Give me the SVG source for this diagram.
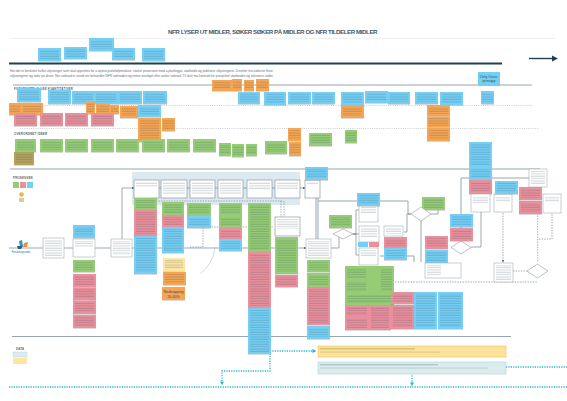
<svg xmlns="http://www.w3.org/2000/svg" width="567" height="401" viewBox="0 0 567 401">
<style>
text{font-family:"Liberation Sans",Arial,sans-serif;fill:#3a4a58}
.t{font-size:6.2px;font-weight:700;letter-spacing:.45px;fill:#4a5b68}
.h{font-size:2.9px;font-weight:700;letter-spacing:.2px;fill:#56646f}
.p{font-size:3.4px;fill:#6a7680}
.big{font-size:3.7px;text-anchor:middle}
.b{fill:#74cff5}.o{fill:#f5a552}.r{fill:#ea8f9c}.g{fill:#95cc74}.y{fill:#fbe7a1}.k{fill:#b3a15c}
.s{filter:url(#sh)}
.w{fill:#fff;stroke:#8b98a2;stroke-width:.7}
.d{fill:#fff;stroke:#a3adb5;stroke-width:.6}
.m{fill:url(#ln);opacity:.24}
.c{fill:none;stroke:#75858f;stroke-width:.7}
.cd{fill:none;stroke:#75858f;stroke-width:.7;stroke-dasharray:1.4 1.2}
.bar{fill:none;stroke:#98a6ae;stroke-width:1}
.dot{fill:none;stroke:#a6b0b6;stroke-width:.6;stroke-dasharray:1 1.2}
.tl{fill:none;stroke:#27b5cf;stroke-width:1.3;stroke-dasharray:1.2 1.2}
</style>
<defs>
<filter id="sh" x="-10%" y="-10%" width="120%" height="130%"><feDropShadow dx="0" dy=".6" stdDeviation=".4" flood-color="#666" flood-opacity=".4"/></filter>
<pattern id="ln" width="12" height="2.4" patternUnits="userSpaceOnUse"><rect y=".5" width="12" height="1" fill="#2f4a56"/></pattern>
<marker id="a" markerWidth="4" markerHeight="4" refX="3" refY="2" orient="auto"><path d="M0 0L4 2L0 4z" fill="#5f6e79"/></marker>
<marker id="at" markerWidth="3" markerHeight="3" refX="2" refY="1.5" orient="auto"><path d="M0 0L3 1.5L0 3z" fill="#27b5cf"/></marker>
</defs>
<rect width="567" height="401" fill="#fff"/>
<text class="t" x="168" y="34" textLength="210">NFR LYSER UT MIDLER, SØKER SØKER PÅ MIDLER OG NFR TILDELER MIDLER</text>
<path d="M10 38.5H555" stroke="#eef1f3" stroke-width="1"/>
<path d="M9 63.5H502" stroke="#20404f" stroke-width="2"/>
<path d="M529 58.5H553" stroke="#20404f" stroke-width="1.4"/><path d="M552 55.5L558 58.5L552 61.5z" fill="#20404f"/>
<text class="p" x="10" y="71.5" textLength="263">Når det er besluttet hvilke utlysninger som skal opprettes for å oppnå porteføljemålene, starter prosessen med å planlegge, utarbeide og publisere utlysningene. Deretter må søkerne finne</text>
<text class="p" x="10" y="76.5" textLength="263">utlysningene og søke på disse. Når søknad er sendt inn behandler NFR søknaden og enten innvilget eller avslår søknad. Til slutt må kontrakt for prosjektet utarbeides og arkiveres under</text>
<path class="bar" d="M13 85H532M10 169H540M12 336.5H511"/>
<path class="dot" d="M45 105.5H532M20 128.5H538"/>
<text class="h" x="14" y="90">FORUTSATTE SLUSE KVANTITATIVER</text>
<text class="h" x="14" y="135">OVERORDNET IDEER</text>
<text class="h" x="13" y="179">PROSESSEN</text>
<text class="h" x="16" y="350">DATA</text>
<rect x="132" y="172" width="168" height="33" fill="#dde9f1"/>
<g id="connectors">
<path class="c" d="M9 248H43M64 248H73M95 248H111M132 248H306" marker-end="url(#a)"/>
<path class="c" d="M122 248V188H134" marker-end="url(#a)"/>
<path class="c" d="M159 188H161M187 188H190M215 188H218M243 188H247M272 188H275M300 188H305" marker-end="url(#a)"/>
<path class="bar" d="M316 186V239M318 186V239M318 201H357"/>
<path class="c" d="M331 248H339V234H343" marker-end="url(#a)"/>
<path class="c" d="M353 234H356V210H359M353 234H359M353 234H356V255H359"/>
<path class="bar" d="M380 201H408V214H411"/>
<path class="c" d="M404 232H407V214H411M431 214H438V208"/>
<path class="bar" d="M421 221V262M380 256H414V262M461 240V178H529"/>
<path class="c" d="M471 247H481V212"/>
<path class="cd" d="M190 247H203V227H273M135 201H282M281 201V217M284 201V217"/>
<path class="cd" d="M503 213V262" marker-end="url(#a)"/>
<path class="cd" d="M537.7 213V262M539 239H552V213M395 282H537M513 271H527"/>
<path d="M215 247C214 258 208 268 200 274" fill="none" stroke="#aab4ba" stroke-width=".5"/>
<path class="tl" d="M270 351H315" marker-end="url(#at)"/>
<path class="tl" d="M270 351V371H222V384" marker-end="url(#at)"/>
<path class="tl" d="M506 367H567"/>
<path class="tl" d="M412 373V385" marker-end="url(#at)"/>
<path class="tl" d="M9 387H567"/>
</g>
<g id="n1"><rect class="s b" x="38" y="48" width="23" height="13"/><rect class="m" x="40" y="50" width="19" height="9"/></g>
<g id="n2"><rect class="s b" x="64" y="47" width="23" height="12"/><rect class="m" x="66" y="49" width="19" height="8"/></g>
<g id="n3"><rect class="s b" x="89" y="38" width="25" height="13"/><rect class="m" x="91" y="40" width="21" height="9"/></g>
<g id="n4"><rect class="s b" x="112" y="48" width="23" height="12"/><rect class="m" x="114" y="50" width="19" height="8"/></g>
<g id="n5"><rect class="s b" x="142" y="48" width="23" height="13"/><rect class="m" x="144" y="50" width="19" height="9"/></g>
<g id="n6"><rect class="s b" x="478" y="72" width="22" height="13"/><text class="big" x="489" y="77.5">Only Once-</text><text class="big" x="489" y="82">prinsipp</text></g>
<g id="n7"><rect class="s b" x="17" y="88" width="24" height="14"/><rect class="m" x="19" y="90" width="20" height="10"/></g>
<g id="n8"><rect class="s b" x="48" y="90" width="23" height="14"/><rect class="m" x="50" y="92" width="19" height="10"/></g>
<g id="n9"><rect class="s b" x="72" y="91" width="23" height="13"/><rect class="m" x="74" y="93" width="19" height="9"/></g>
<g id="n10"><rect class="s b" x="94" y="91" width="24" height="13"/><rect class="m" x="96" y="93" width="20" height="9"/></g>
<g id="n11"><rect class="s b" x="118" y="91" width="24" height="13"/><rect class="m" x="120" y="93" width="20" height="9"/></g>
<g id="n12"><rect class="s b" x="143" y="91" width="24" height="13"/><rect class="m" x="145" y="93" width="20" height="9"/></g>
<g id="n13"><rect class="s o" x="9" y="103" width="12" height="12"/><rect class="m" x="10" y="105" width="10" height="8"/></g>
<g id="n14"><rect class="s o" x="21" y="103" width="22" height="12"/><rect class="m" x="23" y="105" width="18" height="8"/></g>
<g id="n15"><rect class="s o" x="86" y="101" width="9" height="13"/><rect class="m" x="87" y="103" width="7" height="9"/></g>
<g id="n16"><rect class="s o" x="96" y="103" width="14" height="12"/><rect class="m" x="97" y="105" width="12" height="8"/></g>
<g id="n17"><rect class="s o" x="110" y="105" width="9" height="9"/><rect class="m" x="111" y="107" width="7" height="5"/></g>
<g id="n18"><rect class="s o" x="120" y="106" width="18" height="12"/><rect class="m" x="122" y="108" width="14" height="8"/></g>
<g id="n19"><rect class="s b" x="138" y="105" width="23" height="12"/><rect class="m" x="140" y="107" width="19" height="8"/></g>
<g id="n20"><rect class="s o" x="138" y="118" width="23" height="24"/><rect class="m" x="140" y="120" width="19" height="20"/></g>
<g id="n21"><rect class="s o" x="162" y="118" width="13" height="13"/><rect class="m" x="163" y="120" width="11" height="9"/></g>
<g id="n22"><rect class="s r" x="14" y="113" width="23" height="13"/><rect class="m" x="16" y="115" width="19" height="9"/></g>
<g id="n23"><rect class="s r" x="40" y="113" width="23" height="13"/><rect class="m" x="42" y="115" width="19" height="9"/></g>
<g id="n24"><rect class="s r" x="65" y="113" width="23" height="13"/><rect class="m" x="67" y="115" width="19" height="9"/></g>
<g id="n25"><rect class="s r" x="91" y="113" width="23" height="13"/><rect class="m" x="93" y="115" width="19" height="9"/></g>
<g id="n26"><rect class="s o" x="212" y="80" width="20" height="11"/><rect class="m" x="214" y="82" width="16" height="7"/></g>
<g id="n27"><rect class="s o" x="232" y="79" width="10" height="12"/><rect class="m" x="233" y="81" width="8" height="8"/></g>
<g id="n28"><rect class="s o" x="244" y="80" width="10" height="11"/><rect class="m" x="245" y="82" width="8" height="7"/></g>
<g id="n29"><rect class="s o" x="256" y="79" width="13" height="12"/><rect class="m" x="257" y="81" width="11" height="8"/></g>
<g id="n30"><rect class="s b" x="238" y="92" width="22" height="12"/><rect class="m" x="240" y="94" width="18" height="8"/></g>
<g id="n31"><rect class="s b" x="264" y="92" width="22" height="13"/><rect class="m" x="266" y="94" width="18" height="9"/></g>
<g id="n32"><rect class="s b" x="288" y="92" width="23" height="12"/><rect class="m" x="290" y="94" width="19" height="8"/></g>
<g id="n33"><rect class="s b" x="312" y="92" width="23" height="12"/><rect class="m" x="314" y="94" width="19" height="8"/></g>
<g id="n34"><rect class="s b" x="341" y="92" width="23" height="13"/><rect class="m" x="343" y="94" width="19" height="9"/></g>
<g id="n35"><rect class="s b" x="365" y="91" width="23" height="12"/><rect class="m" x="367" y="93" width="19" height="8"/></g>
<g id="n36"><rect class="s b" x="388" y="92" width="22" height="12"/><rect class="m" x="390" y="94" width="18" height="8"/></g>
<g id="n37"><rect class="s b" x="415" y="92" width="23" height="12"/><rect class="m" x="417" y="94" width="19" height="8"/></g>
<g id="n38"><rect class="s b" x="440" y="92" width="23" height="13"/><rect class="m" x="442" y="94" width="19" height="9"/></g>
<g id="n39"><rect class="s b" x="481" y="91" width="13" height="13"/><rect class="m" x="482" y="93" width="11" height="9"/></g>
<g id="n40"><rect class="s o" x="341" y="105" width="23" height="13"/><rect class="m" x="343" y="107" width="19" height="9"/></g>
<g id="n41"><rect class="s o" x="427" y="105" width="23" height="11"/><rect class="m" x="429" y="107" width="19" height="7"/></g>
<g id="n42"><rect class="s o" x="427" y="116.500" width="23" height="11"/><rect class="m" x="429" y="118" width="19" height="8"/></g>
<g id="n43"><rect class="s o" x="427" y="128" width="23" height="13"/><rect class="m" x="429" y="130" width="19" height="9"/></g>
<g id="n44"><rect class="s o" x="288" y="128" width="13" height="13"/><rect class="m" x="289" y="130" width="11" height="9"/></g>
<g id="n45"><rect class="s o" x="289" y="142" width="12" height="14"/><rect class="m" x="290" y="144" width="10" height="10"/></g>
<g id="n46"><rect class="s g" x="309" y="133" width="23" height="13"/><rect class="m" x="311" y="135" width="19" height="9"/></g>
<g id="n47"><rect class="s g" x="345" y="130" width="12" height="13"/><rect class="m" x="346" y="132" width="10" height="9"/></g>
<g id="n48"><rect class="s g" x="15" y="139" width="21" height="13"/><rect class="m" x="17" y="141" width="17" height="9"/></g>
<g id="n49"><rect class="s k" x="14" y="152" width="20" height="13"/><rect class="m" x="16" y="154" width="16" height="9"/></g>
<g id="n50"><rect class="s g" x="40" y="139" width="23" height="13"/><rect class="m" x="42" y="141" width="19" height="9"/></g>
<g id="n51"><rect class="s g" x="65" y="139" width="23" height="13"/><rect class="m" x="67" y="141" width="19" height="9"/></g>
<g id="n52"><rect class="s g" x="91" y="139" width="23" height="13"/><rect class="m" x="93" y="141" width="19" height="9"/></g>
<g id="n53"><rect class="s g" x="116" y="139" width="23" height="13"/><rect class="m" x="118" y="141" width="19" height="9"/></g>
<g id="n54"><rect class="s g" x="142" y="139" width="23" height="13"/><rect class="m" x="144" y="141" width="19" height="9"/></g>
<g id="n55"><rect class="s g" x="167" y="139" width="23" height="13"/><rect class="m" x="169" y="141" width="19" height="9"/></g>
<g id="n56"><rect class="s g" x="193" y="139" width="23" height="13"/><rect class="m" x="195" y="141" width="19" height="9"/></g>
<g id="n57"><rect class="s g" x="219" y="143" width="12" height="13"/><rect class="m" x="220" y="145" width="10" height="9"/></g>
<g id="n58"><rect class="s g" x="232" y="144" width="12" height="13"/><rect class="m" x="233" y="146" width="10" height="9"/></g>
<g id="n59"><rect class="s g" x="246" y="144" width="11" height="12"/><rect class="m" x="247" y="146" width="9" height="8"/></g>
<g id="n60"><rect class="s g" x="265" y="141" width="22" height="13"/><rect class="m" x="267" y="143" width="18" height="9"/></g>
<g id="n61"><rect x="13" y="182" width="6" height="6" class="g"/><rect x="20" y="182" width="6" height="6" class="r"/><rect x="27" y="182" width="6" height="6" class="b"/></g>
<g id="n62"><circle cx="21.500" cy="194.500" r="2.300" fill="#f4b23f"/><path d="M19 198h5v4h-5z" fill="#d8c9a8"/></g>
<g id="n63"><path d="M19 241l3-1 1 6-3 1z" fill="#2b9cc2"/><path d="M24 243l4-1-1 5h-4z" fill="#ef8b3a"/><path d="M17 246h6l-2 3h-3z" fill="#2e5f8c"/><text x="21" y="253.300" font-size="2.600" text-anchor="middle" style="fill:#2e6aa0">Forskningsrådet</text></g>
<g id="n64"><rect class="d" x="43" y="238" width="21" height="20"/><rect class="m" x="45" y="240" width="17" height="16"/></g>
<g id="n65"><rect class="s b" x="73" y="225" width="22" height="13"/><rect class="m" x="75" y="227" width="18" height="9"/></g>
<g id="n66"><rect class="d" x="73" y="239" width="22" height="18"/><rect class="m" x="75" y="241" width="18" height="6"/></g>
<g id="n67"><rect class="s g" x="73" y="260" width="22" height="12"/><rect class="m" x="75" y="262" width="18" height="8"/></g>
<g id="n68"><rect class="s r" x="73" y="274" width="23" height="13"/><rect class="m" x="75" y="276" width="19" height="9"/></g>
<g id="n69"><rect class="s r" x="73" y="287.500" width="23" height="13"/><rect class="m" x="75" y="289" width="19" height="9"/></g>
<g id="n70"><rect class="s r" x="73" y="301" width="23" height="13"/><rect class="m" x="75" y="303" width="19" height="9"/></g>
<g id="n71"><rect class="s r" x="73" y="315" width="23" height="13"/><rect class="m" x="75" y="317" width="19" height="9"/></g>
<g id="n72"><rect class="d" x="111" y="239" width="21" height="18"/><rect class="m" x="113" y="241" width="17" height="14"/></g>
<g id="n73"><rect class="w" x="134" y="180" width="25" height="18"/><rect class="m" x="136" y="182" width="21" height="5"/></g>
<g id="n74"><rect class="w" x="161" y="180" width="26" height="18"/><rect class="m" x="163" y="182" width="22" height="12"/></g>
<g id="n75"><rect class="w" x="190" y="180" width="25" height="18"/><rect class="m" x="192" y="182" width="21" height="12"/></g>
<g id="n76"><rect class="w" x="218" y="180" width="25" height="18"/><rect class="m" x="220" y="182" width="21" height="12"/></g>
<g id="n77"><rect class="w" x="247" y="180" width="25" height="18"/><rect class="m" x="249" y="182" width="21" height="8"/></g>
<g id="n78"><rect class="w" x="275" y="180" width="25" height="18"/><rect class="m" x="277" y="182" width="21" height="7"/></g>
<g id="n79"><rect class="w" x="305" y="180" width="15" height="18"/><rect class="m" x="307" y="182" width="11" height="3"/></g>
<g id="n80"><rect class="s b" x="305" y="167" width="23" height="13"/><rect class="m" x="307" y="169" width="19" height="9"/></g>
<g id="n81"><rect class="s g" x="134" y="198" width="23" height="12"/><rect class="m" x="136" y="200" width="19" height="8"/></g>
<g id="n82"><rect class="s r" x="134" y="210" width="23" height="26"/><rect class="m" x="136" y="212" width="19" height="22"/></g>
<g id="n83"><rect class="s b" x="134" y="236" width="23" height="38"/><rect class="m" x="136" y="238" width="19" height="34"/></g>
<g id="n84"><rect class="s g" x="162" y="202" width="22" height="13"/><rect class="m" x="164" y="204" width="18" height="9"/></g>
<g id="n85"><rect class="s r" x="162" y="215" width="22" height="12"/><rect class="m" x="164" y="217" width="18" height="8"/></g>
<g id="n86"><rect class="s b" x="162" y="227" width="22" height="26"/><rect class="m" x="164" y="229" width="18" height="22"/></g>
<g id="n87"><rect class="s y" x="163" y="258" width="22" height="13"/><rect class="m" x="165" y="260" width="18" height="9"/></g>
<g id="n88"><rect class="s o" x="163" y="272" width="23" height="13"/><rect class="m" x="165" y="274" width="19" height="9"/></g>
<g id="n89"><rect class="s o" x="162" y="287" width="23" height="13"/><text class="big" x="173.500" y="292.500">Nedtrapping</text><text class="big" x="173.500" y="297.500">20-40%</text></g>
<g id="n90"><rect class="s g" x="187" y="203" width="24" height="13"/><rect class="m" x="189" y="205" width="20" height="9"/></g>
<g id="n91"><rect class="s b" x="187" y="216" width="24" height="12"/><rect class="m" x="189" y="218" width="20" height="8"/></g>
<g id="n92"><rect class="s g" x="219" y="203" width="23" height="13"/><rect class="m" x="221" y="205" width="19" height="9"/></g>
<g id="n93"><rect class="s g" x="219" y="216" width="23" height="12"/><rect class="m" x="221" y="218" width="19" height="8"/></g>
<g id="n94"><rect class="s r" x="219" y="228" width="23" height="11"/><rect class="m" x="221" y="230" width="19" height="7"/></g>
<g id="n95"><rect class="s b" x="219" y="239" width="23" height="12"/><rect class="m" x="221" y="241" width="19" height="8"/></g>
<g id="n96"><rect class="s g" x="248" y="203" width="23" height="49"/><rect class="m" x="250" y="205" width="19" height="45"/></g>
<g id="n97"><rect class="s r" x="248" y="252" width="23" height="56"/><rect class="m" x="250" y="254" width="19" height="52"/></g>
<g id="n98"><rect class="s b" x="248" y="308" width="23" height="46"/><rect class="m" x="250" y="310" width="19" height="42"/></g>
<g id="n99"><rect class="w" x="275" y="217" width="25" height="19"/><rect class="m" x="277" y="219" width="21" height="10"/></g>
<g id="n100"><rect class="s g" x="275" y="237" width="23" height="37"/><rect class="m" x="277" y="239" width="19" height="33"/></g>
<g id="n101"><rect class="s r" x="275" y="275" width="23" height="12"/><rect class="m" x="277" y="277" width="19" height="8"/></g>
<g id="n102"><rect class="d" x="306" y="239" width="25" height="19"/><rect class="m" x="308" y="241" width="21" height="15"/></g>
<g id="n103"><rect class="s g" x="307" y="260" width="23" height="12"/><rect class="m" x="309" y="262" width="19" height="8"/></g>
<g id="n104"><rect class="s g" x="307" y="273" width="23" height="14"/><rect class="m" x="309" y="275" width="19" height="10"/></g>
<g id="n105"><rect class="s r" x="307" y="287" width="23" height="38"/><rect class="m" x="309" y="289" width="19" height="34"/></g>
<g id="n106"><rect class="s b" x="307" y="326" width="23" height="13"/><rect class="m" x="309" y="328" width="19" height="9"/></g>
<g id="n107"><rect class="s g" x="329" y="215" width="23" height="13"/><rect class="m" x="331" y="217" width="19" height="9"/></g>
<path id="n108" d="M343 229L353 234L343 239L333 234z" fill="#fff" stroke="#8b98a2" stroke-width=".6"/>
<g id="n109"><rect class="d" x="359" y="205" width="19" height="17"/><rect class="m" x="361" y="207" width="15" height="7"/></g>
<g id="n110"><rect class="d" x="359" y="226" width="20" height="16"/><rect class="m" x="361" y="228" width="16" height="10"/></g>
<rect id="n111" class="b" x="358" y="242" width="10" height="5"/>
<rect id="n112" class="r" x="369" y="242" width="10" height="5"/>
<g id="n113"><rect class="d" x="359" y="248" width="19" height="17"/><rect class="m" x="361" y="250" width="15" height="7"/></g>
<g id="n114"><rect class="s b" x="357" y="193" width="23" height="13"/><rect class="m" x="359" y="195" width="19" height="9"/></g>
<g id="n115"><rect class="s b" x="469" y="142" width="23" height="25"/><rect class="m" x="471" y="144" width="19" height="21"/></g>
<g id="n116"><rect class="s b" x="469" y="167" width="23" height="13"/><rect class="m" x="471" y="169" width="19" height="9"/></g>
<g id="n117"><rect class="s r" x="469" y="180" width="23" height="14"/><rect class="m" x="471" y="182" width="19" height="10"/></g>
<g id="n118"><rect class="s g" x="422" y="197" width="23" height="13"/><rect class="m" x="424" y="199" width="19" height="9"/></g>
<path id="n119" d="M421 207L431 214L421 221L411 214z" fill="#fff" stroke="#8b98a2" stroke-width=".6"/>
<g id="n120"><rect class="d" x="384" y="226" width="19" height="10"/><rect class="m" x="386" y="228" width="15" height="6"/></g>
<g id="n121"><rect class="s r" x="384" y="237" width="23" height="11"/><rect class="m" x="386" y="239" width="19" height="7"/></g>
<g id="n122"><rect class="s b" x="384" y="248" width="23" height="12"/><rect class="m" x="386" y="250" width="19" height="8"/></g>
<g id="n123"><rect class="s b" x="450" y="214" width="23" height="13"/><rect class="m" x="452" y="216" width="19" height="9"/></g>
<g id="n124"><rect class="s r" x="450" y="228" width="23" height="13"/><rect class="m" x="452" y="230" width="19" height="9"/></g>
<path id="n125" d="M461 241L471 247.500L461 254L451 247.500z" fill="#fff" stroke="#8b98a2" stroke-width=".6"/>
<g id="n126"><rect class="d" x="471" y="194" width="19" height="18"/><rect class="m" x="473" y="196" width="15" height="8"/></g>
<g id="n127"><rect class="d" x="494" y="194" width="18" height="18"/><rect class="m" x="496" y="196" width="14" height="6"/></g>
<g id="n128"><rect class="s b" x="495" y="181" width="23" height="13"/><rect class="m" x="497" y="183" width="19" height="9"/></g>
<g id="n129"><rect class="d" x="529" y="169" width="18" height="18"/><rect class="m" x="531" y="171" width="14" height="14"/></g>
<g id="n130"><rect class="s r" x="519" y="187" width="23" height="13"/><rect class="m" x="521" y="189" width="19" height="9"/></g>
<g id="n131"><rect class="s r" x="519" y="201" width="23" height="13"/><rect class="m" x="521" y="203" width="19" height="9"/></g>
<g id="n132"><rect class="d" x="543" y="194" width="18" height="19"/><rect class="m" x="545" y="196" width="14" height="6"/></g>
<g id="n133"><rect class="s r" x="425" y="236" width="23" height="13"/><rect class="m" x="427" y="238" width="19" height="9"/></g>
<g id="n134"><rect class="s b" x="425" y="250" width="23" height="13"/><rect class="m" x="427" y="252" width="19" height="9"/></g>
<g id="n135"><rect class="d" x="425" y="263" width="36" height="15"/><rect class="m" x="427" y="265" width="14" height="11"/></g>
<g id="n136"><rect class="d" x="494" y="263" width="19" height="19"/><rect class="m" x="496" y="265" width="15" height="15"/></g>
<path id="n137" d="M537.500 264L548 271L537.500 278L527 271z" fill="#fff" stroke="#8b98a2" stroke-width=".6"/>
<g id="n138"><rect class="s g" x="345" y="266" width="23" height="14"/><rect class="m" x="347" y="268" width="19" height="10"/></g>
<g id="n139"><rect class="s g" x="345" y="280" width="23" height="13"/><rect class="m" x="347" y="282" width="19" height="9"/></g>
<g id="n140"><rect class="s g" x="368" y="266" width="26" height="27"/><rect class="m" x="381" y="268" width="11" height="23"/></g>
<g id="n141"><rect class="s g" x="345" y="293" width="49" height="12"/><rect class="m" x="347" y="295" width="45" height="8"/></g>
<g id="n142"><rect class="s r" x="345" y="305" width="24" height="12"/><rect class="m" x="347" y="307" width="20" height="8"/></g>
<g id="n143"><rect class="s r" x="345" y="317" width="24" height="13"/><rect class="m" x="347" y="319" width="20" height="9"/></g>
<g id="n144"><rect class="s r" x="369" y="305" width="22" height="25"/><rect class="m" x="371" y="307" width="18" height="21"/></g>
<g id="n145"><rect class="s r" x="391" y="292" width="23" height="12"/><rect class="m" x="393" y="294" width="19" height="8"/></g>
<g id="n146"><rect class="s r" x="391" y="305" width="23" height="24"/><rect class="m" x="393" y="307" width="19" height="20"/></g>
<g id="n147"><rect class="s b" x="414" y="292" width="23" height="37"/><rect class="m" x="416" y="294" width="19" height="33"/></g>
<g id="n148"><rect class="s b" x="438" y="292" width="25" height="37"/><rect class="m" x="440" y="294" width="21" height="33"/></g>
<g id="n149"><rect x="13" y="352" width="14" height="5" fill="#dcecee" stroke="#9fd0da" stroke-width=".4"/><rect x="13" y="358" width="14" height="6" class="y"/></g>
<g id="n150"><rect x="318" y="346" width="188" height="11" fill="#fbe49a" stroke="#f0b860" stroke-width=".6"/><rect x="320" y="348" width="95" height="1.400" fill="#7a6a30" opacity=".3"/><rect x="320" y="351.500" width="120" height="1.200" fill="#7a6a30" opacity=".2"/></g>
<g id="n151"><rect x="318" y="362" width="188" height="12" fill="#dcecee" stroke="#a9d5dd" stroke-width=".6"/><rect x="320" y="364" width="118" height="1.400" fill="#4d6a72" opacity=".3"/><rect x="320" y="367.500" width="168" height="1.200" fill="#4d6a72" opacity=".2"/></g>
</svg>
